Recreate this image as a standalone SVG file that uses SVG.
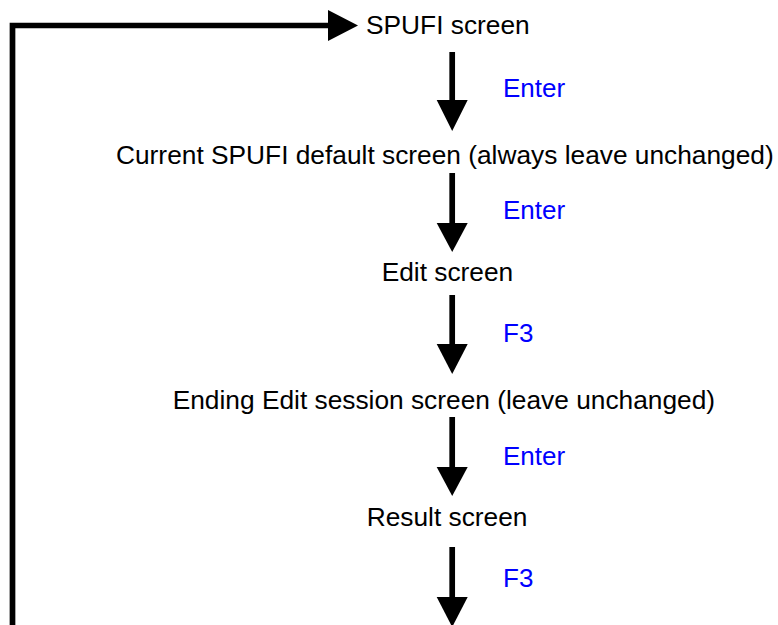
<svg xmlns="http://www.w3.org/2000/svg" width="778" height="625" viewBox="0 0 778 625">
<style>
.node{font-family:"Liberation Sans",Arial,sans-serif;font-size:26.3px;fill:#000}
.lbl{font-family:"Liberation Sans",Arial,sans-serif;font-size:26px;fill:#0000ff}
.shaft{stroke:#000;stroke-width:5.7;fill:none}
.head{fill:#000}
</style>
<rect width="778" height="625" fill="#fff"/>
<g id="connectors">
  <path class="shaft" d="M12.5,630 V25.5 H331"/>
  <polygon class="head" points="328,10 358,25.5 328,41"/>
  <line class="shaft" x1="452.2" y1="52" x2="452.2" y2="102"/>
  <polygon class="head" points="436.7,100 467.7,100 452.2,131"/>
  <line class="shaft" x1="452.2" y1="173" x2="452.2" y2="225"/>
  <polygon class="head" points="436.7,223 467.7,223 452.2,252"/>
  <line class="shaft" x1="452.2" y1="295" x2="452.2" y2="346"/>
  <polygon class="head" points="436.7,344 467.7,344 452.2,374"/>
  <line class="shaft" x1="452.2" y1="417" x2="452.2" y2="469"/>
  <polygon class="head" points="436.7,467 467.7,467 452.2,496"/>
  <line class="shaft" x1="452.2" y1="547" x2="452.2" y2="599"/>
  <polygon class="head" points="436.7,597 467.7,597 452.2,627"/>
  <text class="lbl" x="503" y="97">Enter</text>
  <text class="lbl" x="503" y="218.5">Enter</text>
  <text class="lbl" x="503" y="341.7">F3</text>
  <text class="lbl" x="503" y="465">Enter</text>
  <text class="lbl" x="503" y="587">F3</text>
</g>
<g id="spufi"><text class="node" x="366" y="34">SPUFI screen</text></g>
<g id="defaults"><text class="node" x="116" y="163.5">Current SPUFI default screen (always leave unchanged)</text></g>
<g id="edit"><text class="node" x="381.7" y="281">Edit screen</text></g>
<g id="ending"><text class="node" x="172.7" y="408.5">Ending Edit session screen (leave unchanged)</text></g>
<g id="result"><text class="node" x="366.7" y="525.5">Result screen</text></g>
</svg>
